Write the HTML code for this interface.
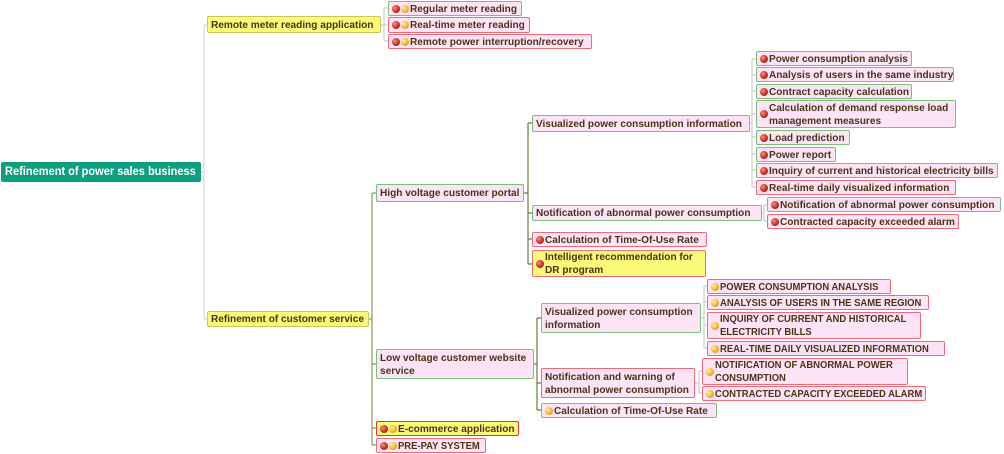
<!DOCTYPE html>
<html><head><meta charset="utf-8"><style>
body{margin:0;width:1004px;height:454px;background:#fff;position:relative;overflow:hidden;font-family:"Liberation Sans",sans-serif}
.n{position:absolute;box-sizing:border-box;background:#fce4f6;border:1.5px solid #7cbf7c;border-radius:2px;color:#4a3418;font-weight:bold;font-size:10.5px;line-height:13px;display:flex;align-items:center;padding:1px 3px 0 3px;white-space:nowrap;overflow:hidden}
.r{border-color:#f06a78}
.y{background:#fafa78}
.t{display:inline-block;transform:scaleX(0.96);transform-origin:left center}
.u .t{transform:scaleX(0.9)}
.i{display:inline-block;width:8px;height:8px;border-radius:50%;margin-right:1px;flex:none;margin-top:-1px}
.R{background:radial-gradient(circle at 35% 35%,#f29080,#c0281c 60%,#8a1810)}
.Y{background:radial-gradient(circle at 35% 35%,#fff0a0,#f0b020 60%,#c08010)}
</style></head><body>
<svg width="1004" height="454" style="position:absolute;left:0;top:0">
<g fill="none" stroke-width="1.2">
<path d="M201 172 H204 M204 25 V319 M204 25 H207 M204 319 H207" stroke="#d8d8d8"/>
<path d="M381 25 H384 M384 8 V41 M384 8 H388 M384 25 H388 M384 41 H388" stroke="#d0d0d0"/>
<path d="M369 319 H372 M372 193 V445 M372 193 H376 M372 364 H376 M372 428 H376 M372 445 H376" stroke="#8a9a60"/>
<path d="M524 193 H528 M528 123 V264 M528 123 H532 M528 213 H532 M528 239 H532 M528 264 H532" stroke="#6a7a40"/>
<path d="M750 123 H752 M752 59 V187 M752 59 H756 M752 75 H756 M752 91 H756 M752 114 H756 M752 137 H756 M752 154 H756 M752 170 H756 M752 187 H756" stroke="#ccc"/>
<path d="M762 213 H764 M764 205 V221 M764 205 H767 M764 221 H767" stroke="#ccc"/>
<path d="M534 364 H537 M537 318 V410 M537 318 H541 M537 383 H541 M537 410 H541" stroke="#6a7a40"/>
<path d="M701 318 H704 M704 286 V348 M704 286 H707 M704 302 H707 M704 325 H707 M704 348 H707" stroke="#ccc"/>
<path d="M695 383 H699 M699 371 V393 M699 371 H702 M699 393 H702" stroke="#ccc"/>
</g></svg>

<div class="n" style="left:1px;top:162px;width:200px;height:20px;background:#0e9e80;border-color:#0e9e80;color:#fff;font-size:11.5px"><span class="t">Refinement of power sales business</span></div>
<div class="n y" style="left:207px;top:16px;width:174px;height:17px;border-color:#c8c85a"><span class="t">Remote meter reading application</span></div>
<div class="n" style="left:388px;top:1px;width:134px;height:15px"><span class="i R"></span><span class="i Y"></span><span class="t">Regular meter reading</span></div>
<div class="n r" style="left:388px;top:17px;width:142px;height:16px"><span class="i R"></span><span class="i Y"></span><span class="t">Real-time meter reading</span></div>
<div class="n r" style="left:388px;top:34px;width:204px;height:15px"><span class="i R"></span><span class="i Y"></span><span class="t">Remote power interruption/recovery</span></div>

<div class="n y" style="left:207px;top:311px;width:162px;height:16px;border-color:#c8c85a"><span class="t">Refinement of customer service</span></div>
<div class="n" style="left:376px;top:184px;width:148px;height:18px"><span class="t">High voltage customer portal</span></div>
<div class="n" style="left:532px;top:115px;width:218px;height:17px"><span class="t">Visualized power consumption information</span></div>
<div class="n" style="left:756px;top:51px;width:156px;height:15px"><span class="i R"></span><span class="t">Power consumption analysis</span></div>
<div class="n" style="left:756px;top:67px;width:198px;height:15px"><span class="i R"></span><span class="t">Analysis of users in the same industry</span></div>
<div class="n" style="left:756px;top:84px;width:156px;height:15px"><span class="i R"></span><span class="t">Contract capacity calculation</span></div>
<div class="n" style="left:756px;top:100px;width:200px;height:28px"><span class="i R"></span><span class="t">Calculation of demand response load<br>management measures</span></div>
<div class="n" style="left:756px;top:130px;width:94px;height:15px"><span class="i R"></span><span class="t">Load prediction</span></div>
<div class="n" style="left:756px;top:147px;width:80px;height:15px"><span class="i R"></span><span class="t">Power report</span></div>
<div class="n" style="left:756px;top:163px;width:242px;height:15px"><span class="i R"></span><span class="t">Inquiry of current and historical electricity bills</span></div>
<div class="n r" style="left:756px;top:180px;width:200px;height:15px"><span class="i R"></span><span class="t">Real-time daily visualized information</span></div>
<div class="n" style="left:532px;top:205px;width:230px;height:16px"><span class="t">Notification of abnormal power consumption</span></div>
<div class="n" style="left:767px;top:197px;width:234px;height:15px"><span class="i R"></span><span class="t">Notification of abnormal power consumption</span></div>
<div class="n r" style="left:767px;top:214px;width:192px;height:15px"><span class="i R"></span><span class="t">Contracted capacity exceeded alarm</span></div>
<div class="n r" style="left:532px;top:232px;width:175px;height:15px"><span class="i R"></span><span class="t">Calculation of Time-Of-Use Rate</span></div>
<div class="n r y" style="left:532px;top:250px;width:174px;height:27px"><span class="i R"></span><span class="t">Intelligent recommendation for<br>DR program</span></div>

<div class="n" style="left:376px;top:349px;width:158px;height:30px"><span class="t">Low voltage customer website<br>service</span></div>
<div class="n" style="left:541px;top:303px;width:160px;height:30px"><span class="t">Visualized power consumption<br>information</span></div>
<div class="n r u" style="left:707px;top:279px;width:184px;height:15px"><span class="i Y"></span><span class="t">POWER CONSUMPTION ANALYSIS</span></div>
<div class="n r u" style="left:707px;top:295px;width:222px;height:15px"><span class="i Y"></span><span class="t">ANALYSIS OF USERS IN THE SAME REGION</span></div>
<div class="n r u" style="left:707px;top:312px;width:214px;height:27px"><span class="i Y"></span><span class="t">INQUIRY OF CURRENT AND HISTORICAL<br>ELECTRICITY BILLS</span></div>
<div class="n r u" style="left:707px;top:341px;width:238px;height:15px"><span class="i Y"></span><span class="t">REAL-TIME DAILY VISUALIZED INFORMATION</span></div>
<div class="n r" style="left:541px;top:368px;width:154px;height:30px"><span class="t">Notification and warning of<br>abnormal power consumption</span></div>
<div class="n r u" style="left:702px;top:358px;width:206px;height:27px"><span class="i Y"></span><span class="t">NOTIFICATION OF ABNORMAL POWER<br>CONSUMPTION</span></div>
<div class="n r u" style="left:702px;top:386px;width:224px;height:15px"><span class="i Y"></span><span class="t">CONTRACTED CAPACITY EXCEEDED ALARM</span></div>
<div class="n" style="left:541px;top:403px;width:176px;height:15px"><span class="i Y"></span><span class="t">Calculation of Time-Of-Use Rate</span></div>
<div class="n r y" style="left:376px;top:421px;width:143px;height:15px;border-color:#e83040"><span class="i R"></span><span class="i Y"></span><span class="t">E-commerce application</span></div>
<div class="n r u" style="left:376px;top:438px;width:110px;height:15px"><span class="i R"></span><span class="i Y"></span><span class="t">PRE-PAY SYSTEM</span></div>
</body></html>
